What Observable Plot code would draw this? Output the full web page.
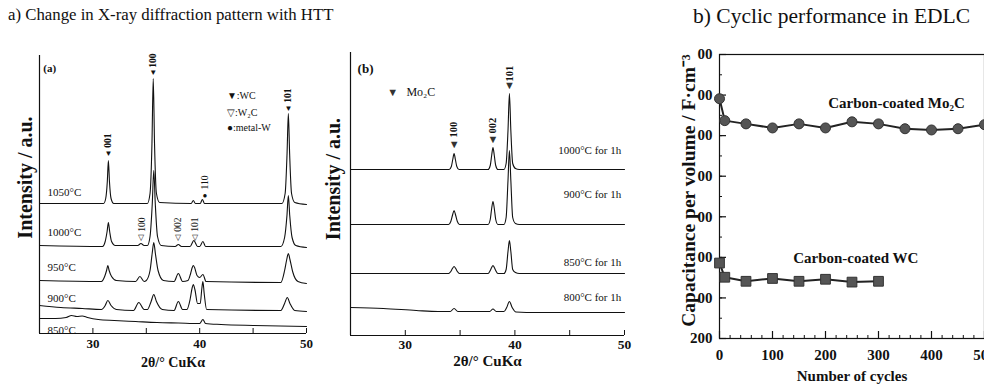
<!DOCTYPE html>
<html>
<head>
<meta charset="utf-8">
<script src="https://cdn.jsdelivr.net/npm/d3@7"></script>
<script src="https://cdn.jsdelivr.net/npm/@observablehq/plot@0.6"></script>
<style>
  body { margin: 0; background: #fff; }
  #root { position: relative; width: 984px; height: 385px; background: #fff; overflow: hidden; }
  .title { position: absolute; font-family: 'Liberation Serif','Times New Roman',serif; line-height: 1; color: #111; white-space: nowrap; }
  .panel { position: absolute; top: 0; }
  .panel svg { display: block; }
  g[aria-label="x-axis tick label"] text, g[aria-label="y-axis tick label"] text { font-weight: bold; }
</style>
</head>
<body>
<div id="root">
  <div class="title" style="left:8px;top:7px;font-size:16.8px">a) Change in X-ray diffraction pattern with HTT</div>
  <div class="title" style="left:693px;top:6px;font-size:21.5px">b) Cyclic performance in EDLC</div>
  <div id="pa" class="panel" style="left:0px"></div>
  <div id="pb" class="panel" style="left:310px"></div>
  <div id="pc" class="panel" style="left:640px"></div>
</div>
<script>
const SERIF = "'Liberation Serif','Times New Roman',serif";

// ---------- Panel (a): XRD of carbon-coated WC, 2θ vs intensity (a.u.) ----------
const a1050 = [[25,130],[31.0,130],[31.2,135],[31.35,152],[31.45,173],[31.55,152],[31.7,135],[31.95,130],
  [35.1,130],[35.35,140],[35.53,190],[35.65,255],[35.77,190],[35.95,140],[36.25,131],
  [39.2,130],[39.4,133],[39.6,130],[40.05,130],[40.25,134],[40.45,130],
  [47.7,130],[48.0,140],[48.18,180],[48.3,220],[48.42,180],[48.6,140],[48.9,131],[50,129]];
const a1000 = [[25,88],[30.9,87],[31.15,92],[31.33,102],[31.45,111],[31.57,102],[31.75,92],[32.1,88],
  [34.2,88],[34.5,90],[34.8,88],[35.1,88],[35.35,97],[35.56,130],[35.7,163],[35.84,130],[36.05,97],[36.4,88],
  [37.7,87],[38.0,89],[38.3,87],[39.1,87],[39.45,93],[39.8,87],[40.0,87],[40.3,92],[40.55,87],
  [47.6,87],[47.95,96],[48.17,118],[48.3,138],[48.43,118],[48.65,96],[49.0,88],[50,86]];
const a950 = [[25,53],[30.8,52],[31.1,57],[31.28,63],[31.4,68],[31.52,63],[31.75,57],[32.2,53],
  [34.0,52],[34.4,57],[34.8,52],[35.0,53],[35.35,63],[35.55,80],[35.7,91],[35.85,80],[36.1,63],[36.6,53],
  [37.6,52],[38.0,60],[38.4,52],[38.9,53],[39.15,60],[39.3,66],[39.4,68],[39.52,66],[39.75,58],[40.0,56],[40.3,59],[40.6,52],
  [47.6,51],[47.95,63],[48.15,74],[48.3,80],[48.45,74],[48.7,62],[49.2,52],[50,50]];
const a900 = [[25,28],[27,26],[29,25],[30.8,24],[31.15,28],[31.4,33],[31.7,28],[32.2,24],
  [33.8,23],[34.3,31],[34.8,24],[35.1,24],[35.45,32],[35.7,39],[35.95,32],[36.5,24],
  [37.6,23],[38.0,32],[38.4,24],[38.8,24],[39.1,34],[39.3,46],[39.4,49],[39.55,44],[39.8,30],[40.05,30],[40.2,45],[40.3,52],[40.42,40],[40.65,24],
  [47.6,23],[47.95,30],[48.2,36],[48.45,30],[48.9,23],[50,22]];
const a850 = [[25,15],[26.5,15],[27.5,16],[28.0,18],[28.5,17],[29.0,17.5],[29.5,16],[30.5,14],[32,13],[34,12],[36,11],
  [38,10.5],[40.0,10],[40.3,14],[40.55,10],[42,9],[45,8],[50,7]];
const aTraces = [["1050",a1050],["1000",a1000],["950",a950],["900",a900],["850",a850]];
const aTempLabels = ["1050°C","1000°C","950°C","900°C","850°C"];
const aTempY = [141,101,66,35,3];
const aWC = [["001",31.45],["100",35.65],["101",48.3]];
const aWCy = [[193,180],[273,261],[238,225]];
const aW2C = [["100",34.55],["002",38.0],["101",39.55]];
const aW = [["110",40.5]];
const aLegend = ["▼:WC","▽:W₂C","●:metal-W"];
const aLegendY = [238,221,206];
const aTicks = [25,30,35,40,45,50];
const aTickLabels = [30,40,50];

// ---------- Panel (b): XRD of carbon-coated Mo2C ----------
const b1000 = [[25,166],[34.0,166],[34.2,169],[34.33,176],[34.45,182],[34.57,176],[34.7,169],[34.9,166],
  [37.55,166],[37.75,170],[37.88,180],[38.0,188],[38.12,180],[38.25,170],[38.45,166],
  [39.0,166],[39.2,172],[39.37,205],[39.5,242],[39.63,205],[39.8,172],[40.05,167],[40.4,166],[50,166]];
const b900 = [[25,111],[33.95,111],[34.15,114],[34.3,120],[34.45,125],[34.6,120],[34.75,114],[34.95,111],
  [37.55,111],[37.75,116],[37.88,127],[38.0,134],[38.12,127],[38.25,116],[38.45,111],
  [39.0,111],[39.2,118],[39.37,155],[39.5,185],[39.63,155],[39.8,118],[40.05,112],[40.4,111],[50,111]];
const b850 = [[25,62],[33.95,62],[34.15,64],[34.3,67],[34.45,69],[34.6,67],[34.75,64],[34.95,62],
  [37.55,62],[37.75,65],[37.88,68],[38.0,70],[38.12,68],[38.25,65],[38.45,62],
  [39.0,62],[39.2,66],[39.37,84],[39.5,95],[39.63,84],[39.8,66],[40.05,63],[40.4,62],[50,62]];
const b800 = [[25,28],[28,27],[31,25],[33,24],[34.1,24],[34.45,27],[34.8,24],[37.7,24],[38.0,26.5],[38.3,24],
  [39.0,24],[39.25,28],[39.5,34],[39.75,28],[40.1,23.5],[42,23],[50,23]];
const bTraces = [["1000",b1000],["900",b900],["850",b850],["800",b800]];
const bTempLabels = ["1000°C for 1h","900°C for 1h","850°C for 1h","800°C for 1h"];
const bTempY = [185,141,73,38];
const bMo2C = [["100",34.45],["002",38.0],["101",39.5]];
const bMo2Cy = [[206,191],[210,196],[262,250]];
const bTicks = [25,30,35,40,45,50];
const bTickLabels = [30,40,50];

// ---------- Panel (c): cyclic performance ----------
const cycles = [0,10,50,100,150,200,250,300,350,400,450,500];
const capMo2C = [791,737,729,719,729,719,734,729,717,714,717,727];
const cyclesWC = [0,10,50,100,150,200,250,300];
const capWC = [386,351,341,348,341,346,339,341];
const cYTicks = [200,300,400,500,600,700,800,900];
const cXTicks = [0,100,200,300,400,500];

// ---------- build panel (a) ----------
const aData = aTraces.flatMap(([k, arr]) => arr.map(([x, y]) => ({k, x, y})));
const pa = Plot.plot({
  width: 330, height: 385,
  marginLeft: 39, marginRight: 24, marginTop: 55, marginBottom: 52,
  x: {domain: [25, 50], axis: null},
  y: {domain: [0, 278], axis: null},
  style: {fontFamily: SERIF, background: "transparent", color: "#111", overflow: "visible"},
  marks: [
    Plot.ruleX([25], {stroke: "#111", strokeWidth: 1.2}),
    Plot.ruleY([0], {stroke: "#111", strokeWidth: 1.2}),
    Plot.ruleX(aTicks, {x: d => d, insetTop: 273, stroke: "#111"}),
    Plot.axisX({ticks: aTickLabels, anchor: "bottom", tickSize: 0, tickPadding: 5, fontSize: 13, fontWeight: "bold", label: null}),
    Plot.line(aData, {x: "x", y: "y", z: "k", curve: "monotone-x", stroke: "#111", strokeWidth: 1.1}),
    Plot.text(aTempLabels, {x: 25.75, y: (d, i) => aTempY[i], text: d => d, textAnchor: "start", fontSize: 11}),
    Plot.text(aWC, {x: d => d[1], y: (d, i) => aWCy[i][0], text: d => d[0], rotate: -90, fontSize: 9.5, fontWeight: "bold"}),
    Plot.text(aWC, {x: d => d[1], y: (d, i) => aWCy[i][1], text: () => "▼", fontSize: 8}),
    Plot.text(aW2C, {x: d => d[1], y: 109, text: d => d[0], rotate: -90, fontSize: 9.5}),
    Plot.text(aW2C, {x: d => d[1], y: 96, text: () => "▽", fontSize: 8}),
    Plot.text(aW, {x: d => d[1], y: 151, text: d => d[0], rotate: -90, fontSize: 9.5}),
    Plot.text(aW, {x: d => d[1], y: 138, text: () => "●", fontSize: 8}),
    Plot.text(aLegend, {x: 42.55, y: (d, i) => aLegendY[i], text: d => d, textAnchor: "start", fontSize: 10}),
    Plot.text(["(a)"], {x: 25.35, y: 265, text: d => d, textAnchor: "start", fontSize: 11, fontWeight: "bold"}),
    Plot.text(["2θ/° CuKα"], {frameAnchor: "bottom", lineAnchor: "middle", textAnchor: "middle", dy: 29, fontSize: 14, fontWeight: "bold"}),
    Plot.text(["Intensity / a.u."], {frameAnchor: "left", textAnchor: "middle", lineAnchor: "middle", dx: -14, dy: -17, rotate: -90, fontSize: 20, fontWeight: "bold"})
  ]
});
document.getElementById("pa").append(pa);

// ---------- build panel (b) ----------
const bData = bTraces.flatMap(([k, arr]) => arr.map(([x, y]) => ({k, x, y})));
const pb = Plot.plot({
  width: 320, height: 385,
  marginLeft: 40, marginRight: 6, marginTop: 52, marginBottom: 50,
  x: {domain: [25, 50], axis: null},
  y: {domain: [0, 283], axis: null},
  style: {fontFamily: SERIF, background: "transparent", color: "#111", overflow: "visible"},
  marks: [
    Plot.ruleX([25], {stroke: "#111", strokeWidth: 1.2}),
    Plot.ruleY([0], {stroke: "#111", strokeWidth: 1.2}),
    Plot.ruleX(bTicks, {x: d => d, insetTop: 278, stroke: "#111"}),
    Plot.axisX({ticks: bTickLabels, anchor: "bottom", tickSize: 0, tickPadding: 4, fontSize: 13.5, fontWeight: "bold", label: null}),
    Plot.line(bData, {x: "x", y: "y", z: "k", curve: "monotone-x", stroke: "#111", strokeWidth: 1.1}),
    Plot.text(bTempLabels, {x: 49.7, y: (d, i) => bTempY[i], text: d => d, textAnchor: "end", fontSize: 11}),
    Plot.text(bMo2C, {x: d => d[1], y: (d, i) => bMo2Cy[i][0], text: d => d[0], rotate: -90, fontSize: 10.5, fontWeight: "bold"}),
    Plot.text(bMo2C, {x: d => d[1], y: (d, i) => bMo2Cy[i][1], text: () => "▼", fontSize: 11, fill: "#333"}),
    Plot.text(["▼"], {x: 28.85, y: 243, text: d => d, fontSize: 11, fill: "#333"}),
    Plot.text(["Mo₂C"], {x: 30.1, y: 243, text: d => d, textAnchor: "start", fontSize: 12}),
    Plot.text(["(b)"], {x: 25.65, y: 267, text: d => d, textAnchor: "start", fontSize: 13, fontWeight: "bold"}),
    Plot.text(["2θ/° CuKα"], {frameAnchor: "bottom", lineAnchor: "middle", textAnchor: "middle", dy: 26, fontSize: 15, fontWeight: "bold"}),
    Plot.text(["Intensity / a.u."], {frameAnchor: "left", textAnchor: "middle", lineAnchor: "middle", dx: -17, dy: -15, rotate: -90, fontSize: 20, fontWeight: "bold"})
  ]
});
document.getElementById("pb").append(pb);

// ---------- build panel (c) ----------
const mo = cycles.map((c, i) => ({c, v: capMo2C[i]}));
const wc = cyclesWC.map((c, i) => ({c, v: capWC[i]}));
const pc = Plot.plot({
  width: 344, height: 385,
  marginLeft: 79, marginRight: 0, marginTop: 54, marginBottom: 47,
  x: {domain: [0, 500], axis: null},
  y: {domain: [200, 900], axis: null},
  style: {fontFamily: SERIF, background: "transparent", color: "#111"},
  marks: [
    Plot.frame({stroke: "#111", strokeWidth: 1.2}),
    Plot.ruleX(d3.range(0, 501, 20), {x: d => d, insetTop: 281, stroke: "#111"}),
    Plot.ruleX(cXTicks, {x: d => d, insetTop: 277, stroke: "#111", strokeWidth: 1.2}),
    Plot.ruleY(d3.range(200, 901, 50), {y: d => d, insetRight: 262, stroke: "#111"}),
    Plot.ruleY(cYTicks, {y: d => d, insetRight: 258, stroke: "#111", strokeWidth: 1.2}),
    Plot.axisX({ticks: cXTicks, anchor: "bottom", tickSize: 0, tickPadding: 11, fontSize: 15, fontWeight: "bold", label: null}),
    Plot.axisY({ticks: cYTicks, anchor: "left", tickSize: 0, tickPadding: 7, fontSize: 15, fontWeight: "bold", label: null,
      tickFormat: d => d === 200 ? "200" : "00"}),
    Plot.line(mo, {x: "c", y: "v", stroke: "#222", strokeWidth: 2}),
    Plot.dot(mo, {x: "c", y: "v", symbol: "circle", r: 5, fill: "#555", stroke: "#333", strokeWidth: 1}),
    Plot.line(wc, {x: "c", y: "v", stroke: "#222", strokeWidth: 2}),
    Plot.dot(wc, {x: "c", y: "v", symbol: "square", r: 5.5, fill: "#555", stroke: "#333", strokeWidth: 1}),
    Plot.text(["Carbon-coated Mo₂C"], {x: 334, y: 781, text: d => d, fontSize: 15, fontWeight: "bold"}),
    Plot.text(["Carbon-coated WC"], {x: 257, y: 398, text: d => d, fontSize: 15, fontWeight: "bold"}),
    Plot.text(["Number of cycles"], {frameAnchor: "bottom", lineAnchor: "middle", textAnchor: "middle", dy: 38, fontSize: 15, fontWeight: "bold"}),
    Plot.text(["Capacitance per volume / F·cm⁻³"], {frameAnchor: "left", textAnchor: "middle", lineAnchor: "middle", dx: -31, dy: -6, rotate: -90, fontSize: 19.5, fontWeight: "bold"})
  ]
});
document.getElementById("pc").append(pc);
</script>
</body>
</html>
